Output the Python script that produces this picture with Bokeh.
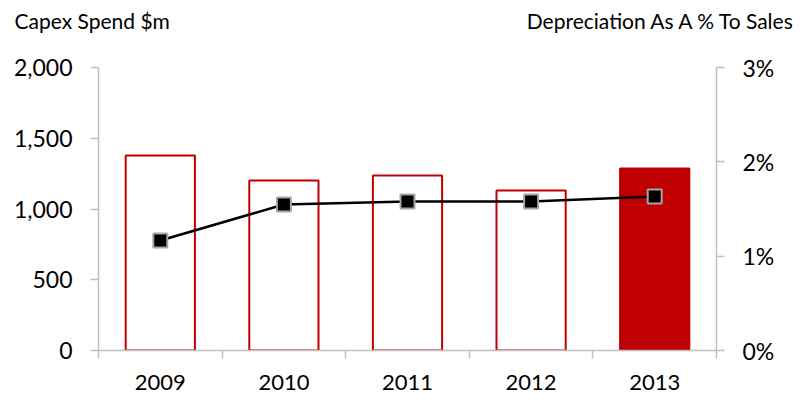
from bokeh.plotting import figure
from bokeh.layouts import column
from bokeh.models import (LinearAxis, Range1d, FixedTicker, NumeralTickFormatter, ColumnDataSource)
from bokeh.core.properties import value
from bokeh.embed import file_html
from bokeh.resources import INLINE

years = ["2009", "2010", "2011", "2012", "2013"]
capex = [1378, 1201, 1237, 1131, 1286]
dep_pct = [0.01166, 0.01548, 0.01580, 0.01580, 0.01633]
fills = ["white", "white", "white", "white", "#C00000"]
left_title = "Capex Spend $m"
right_title = "Depreciation As A % To Sales"

FONT = "Lato"
GRAY = "#BFBFBF"
RED = "#C00000"
W, HEAD_H, MAIN_H = 796, 40, 355

# header strip holding the two axis titles
head = figure(width=W, height=HEAD_H, output_backend="svg", toolbar_location=None,
              x_range=Range1d(0, W), y_range=Range1d(0, HEAD_H),
              min_border=0, x_axis_type=None, y_axis_type=None)
head.frame_align = False
head.outline_line_color = None
head.xgrid.visible = False
head.ygrid.visible = False
head.text(x=[14], y=[HEAD_H - 20], text=[left_title], text_font=value(FONT),
          text_font_size=value("21px"), text_baseline="middle", text_align="left",
          text_color="black")
head.text(x=[W - 1], y=[HEAD_H - 20], text=[right_title], text_font=value(FONT),
          text_font_size=value("21px"), text_baseline="middle", text_align="right",
          text_color="black")

xs = [i + 0.5 for i in range(len(years))]
src = ColumnDataSource(dict(x=xs, capex=capex, dep=dep_pct, fill=fills))

main = figure(width=W, height=MAIN_H, output_backend="svg", toolbar_location=None,
              x_range=Range1d(0, len(years)), y_range=Range1d(0, 2000),
              min_border_left=98, min_border_right=80, min_border_top=67 - HEAD_H,
              min_border_bottom=45)
main.frame_align = False
main.outline_line_color = None
main.xgrid.grid_line_color = None
main.ygrid.grid_line_color = None

main.extra_y_ranges = {"pct": Range1d(0, 0.03)}

main.vbar(x="x", top="capex", width=0.56, source=src, fill_color="fill",
          line_color=RED, line_width=2)
main.line(x="x", y="dep", source=src, y_range_name="pct", line_color="black", line_width=2.5)
main.scatter(x="x", y="dep", source=src, y_range_name="pct", marker="square", size=14,
             fill_color="black", line_color="#A6A6A6", line_width=2)

def style(ax, size="23px", standoff=18):
    ax.major_tick_line_color = GRAY
    ax.minor_tick_line_color = GRAY
    ax.axis_line_color = GRAY
    ax.axis_line_width = 1.5
    ax.major_tick_line_width = 1.5
    ax.minor_tick_line_width = 1.5
    ax.major_label_text_font = FONT
    ax.major_label_text_font_size = size
    ax.major_label_text_color = "black"
    ax.major_label_standoff = standoff

xa = main.xaxis[0]
xa.ticker = FixedTicker(ticks=xs, minor_ticks=list(range(len(years) + 1)))
xa.major_label_overrides = {x: y for x, y in zip(xs, years)}
xa.major_tick_out = 0
xa.major_tick_in = 0
xa.minor_tick_out = 8
xa.minor_tick_in = 0
style(xa, "22px", 16)

ya = main.yaxis[0]
ya.ticker = FixedTicker(ticks=[0, 500, 1000, 1500, 2000])
ya.formatter = NumeralTickFormatter(format="0,0")
ya.major_tick_out = 8
ya.major_tick_in = 0
ya.minor_tick_out = 0
ya.minor_tick_in = 0
style(ya)

ra = LinearAxis(y_range_name="pct", ticker=FixedTicker(ticks=[0, 0.01, 0.02, 0.03]),
                formatter=NumeralTickFormatter(format="0%"))
ra.major_tick_out = 8
ra.major_tick_in = 0
ra.minor_tick_out = 0
ra.minor_tick_in = 0
style(ra)
main.add_layout(ra, "right")

p = column(head, main, spacing=0)
open("out.html", "w").write(file_html(p, INLINE))
